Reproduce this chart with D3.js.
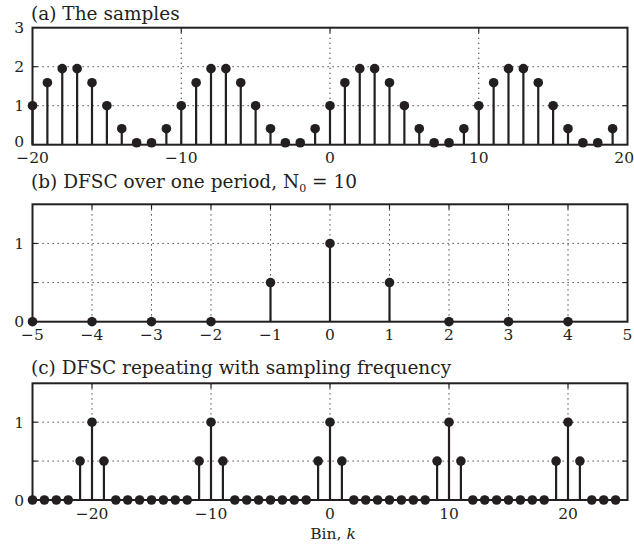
<!DOCTYPE html>
<html>
<head>
<meta charset="utf-8">
<script src="https://cdn.jsdelivr.net/npm/d3@7"></script>
<style>
  html, body { margin: 0; padding: 0; background: #fff; }
  svg text { font-family: "DejaVu Serif", serif; fill: #231f20; }
</style>
</head>
<body>
<svg id="chart" width="634" height="545"></svg>
<script>
// ---- Data ----
const sampleN = d3.range(-20, 20);
const sampleValues = [
  1.00, 1.59, 1.95, 1.95, 1.59, 1.00, 0.41, 0.05, 0.05, 0.41,
  1.00, 1.59, 1.95, 1.95, 1.59, 1.00, 0.41, 0.05, 0.05, 0.41,
  1.00, 1.59, 1.95, 1.95, 1.59, 1.00, 0.41, 0.05, 0.05, 0.41,
  1.00, 1.59, 1.95, 1.95, 1.59, 1.00, 0.41, 0.05, 0.05, 0.41
];
const periodK = [-5, -4, -3, -2, -1, 0, 1, 2, 3, 4];
const periodValues = [0, 0, 0, 0, 0.5, 1, 0.5, 0, 0, 0];
const repeatK = d3.range(-25, 25);
const repeatValues = [
  0, 0, 0, 0, 0.5, 1, 0.5, 0, 0, 0,
  0, 0, 0, 0, 0.5, 1, 0.5, 0, 0, 0,
  0, 0, 0, 0, 0.5, 1, 0.5, 0, 0, 0,
  0, 0, 0, 0, 0.5, 1, 0.5, 0, 0, 0,
  0, 0, 0, 0, 0.5, 1, 0.5, 0, 0, 0
];
const xTicksA = [-20, -10, 0, 10, 20];
const yTicksA = [0, 1, 2, 3];
const xTicksB = [-5, -4, -3, -2, -1, 0, 1, 2, 3, 4, 5];
const yTicksB = [0, 0.5, 1];
const yLabelsB = [0, 1];
const xTicksC = [-20, -10, 0, 10, 20];
const yTicksC = [0, 0.5, 1];
const yLabelsC = [0, 1];

const ink = "#231f20";
const svg = d3.select("#chart");
const L = 32.5, R = 627.5;

function panel(cfg) {
  const x = d3.scaleLinear().domain(cfg.xDomain).range([L, R]);
  const y = d3.scaleLinear().domain(cfg.yDomain).range([cfg.bottom, cfg.top]);
  const g = svg.append("g");

  // grid
  const gx = cfg.xTicks.filter(v => v > cfg.xDomain[0] && v < cfg.xDomain[1]);
  const gy = cfg.yTicks.filter(v => v > cfg.yDomain[0] && v < cfg.yDomain[1]);
  g.selectAll(".gx").data(gx).join("line")
    .attr("x1", d => x(d)).attr("x2", d => x(d))
    .attr("y1", cfg.top).attr("y2", cfg.bottom)
    .attr("stroke", ink).attr("stroke-width", 1).attr("stroke-dasharray", "1.2,3.8");
  g.selectAll(".gy").data(gy).join("line")
    .attr("y1", d => y(d)).attr("y2", d => y(d))
    .attr("x1", L).attr("x2", R)
    .attr("stroke", ink).attr("stroke-width", 1).attr("stroke-dasharray", "1.2,3.8");

  // inward ticks on all sides
  const tl = 5;
  g.selectAll(".tb").data(gx).join("line")
    .attr("x1", d => x(d)).attr("x2", d => x(d))
    .attr("y1", cfg.top).attr("y2", cfg.top + tl)
    .attr("stroke", ink).attr("stroke-width", 1.2);
  g.selectAll(".tbb").data(gx).join("line")
    .attr("x1", d => x(d)).attr("x2", d => x(d))
    .attr("y1", cfg.bottom).attr("y2", cfg.bottom - tl)
    .attr("stroke", ink).attr("stroke-width", 1.2);
  g.selectAll(".tyl").data(gy).join("line")
    .attr("y1", d => y(d)).attr("y2", d => y(d))
    .attr("x1", L).attr("x2", L + tl)
    .attr("stroke", ink).attr("stroke-width", 1.2);
  g.selectAll(".tyr").data(gy).join("line")
    .attr("y1", d => y(d)).attr("y2", d => y(d))
    .attr("x1", R).attr("x2", R - tl)
    .attr("stroke", ink).attr("stroke-width", 1.2);

  // frame
  g.append("rect")
    .attr("x", L).attr("y", cfg.top)
    .attr("width", R - L).attr("height", cfg.bottom - cfg.top)
    .attr("fill", "none").attr("stroke", ink).attr("stroke-width", 2);

  // stems
  const pts = cfg.xs.map((v, i) => ({ x: v, y: cfg.ys[i] }));
  g.selectAll(".stem").data(pts).join("line")
    .attr("x1", d => x(d.x)).attr("x2", d => x(d.x))
    .attr("y1", y(0)).attr("y2", d => y(d.y))
    .attr("stroke", ink).attr("stroke-width", 2.2);
  g.selectAll(".dot").data(pts).join("circle")
    .attr("cx", d => x(d.x)).attr("cy", d => y(d.y))
    .attr("r", 4.8).attr("fill", ink);

  // x labels
  g.selectAll(".xl").data(cfg.xTicks).join("text")
    .attr("x", d => x(d)).attr("y", cfg.bottom + 18.5)
    .attr("text-anchor", d => (x(d) > 620 && String(d).length > 1) ? "end" : "middle")
    .attr("dx", d => (x(d) > 620 && String(d).length > 1) ? 6.5 : 0)
    .attr("font-size", 15.5)
    .text(d => d < 0 ? "\u2212" + Math.abs(d) : String(d));
  // y labels
  g.selectAll(".yl").data(cfg.yLabels).join("text")
    .attr("x", 24).attr("y", d => y(d) + (d === 0 && cfg.shiftZero ? -3.5 : 0))
    .attr("dy", "0.36em")
    .attr("text-anchor", "end").attr("font-size", 15.5)
    .text(d => String(d));

  // title
  const t = g.append("text").attr("x", L - 1.5).attr("y", cfg.titleY).attr("font-size", 18.5);
  cfg.title(t);
  return { x, y };
}

panel({
  xDomain: [-20, 20], yDomain: [0, 3], top: 27.7, bottom: 144.7,
  xTicks: xTicksA, yTicks: yTicksA, yLabels: yTicksA, xs: sampleN, ys: sampleValues,
  shiftZero: true, titleY: 20,
  title: t => t.text("(a) The samples")
});

panel({
  xDomain: [-5, 5], yDomain: [0, 1.5], top: 204.3, bottom: 321.7,
  xTicks: xTicksB, yTicks: yTicksB, yLabels: yLabelsB, xs: periodK, ys: periodValues,
  titleY: 188,
  title: t => {
    t.append("tspan").text("(b) DFSC over one period, N");
    t.append("tspan").attr("font-size", 11).attr("dy", 4).text("0");
    t.append("tspan").attr("dy", -4).text(" = 10");
  }
});

panel({
  xDomain: [-25, 25], yDomain: [0, 1.5], top: 383.3, bottom: 500,
  xTicks: xTicksC, yTicks: yTicksC, yLabels: yLabelsC, xs: repeatK, ys: repeatValues,
  titleY: 374,
  title: t => t.text("(c) DFSC repeating with sampling frequency")
});

// x-axis label
const xl = svg.append("text").attr("x", 333).attr("y", 539)
  .attr("text-anchor", "middle").attr("font-size", 15.5);
xl.append("tspan").text("Bin, ");
xl.append("tspan").attr("font-style", "italic").text("k");
</script>
</body>
</html>
